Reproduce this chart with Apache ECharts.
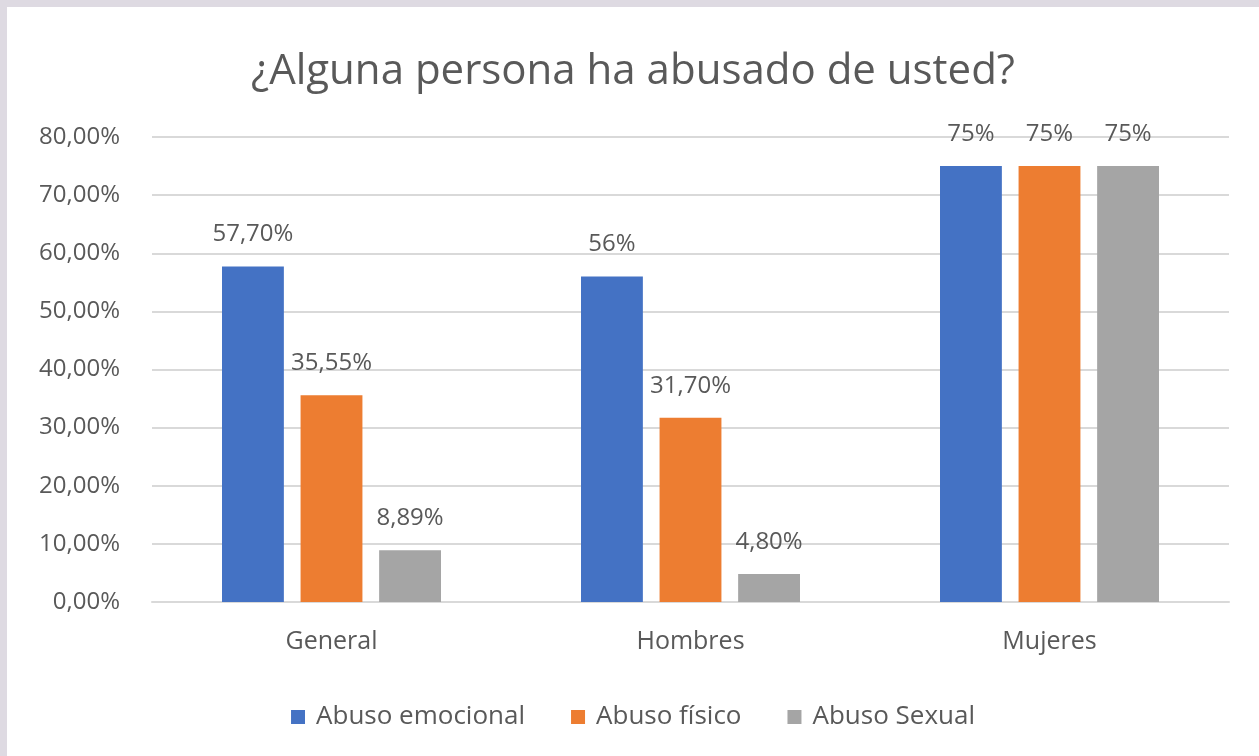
<!DOCTYPE html>
<html>
<head>
<meta charset="utf-8">
<title>¿Alguna persona ha abusado de usted?</title>
<script src="https://cdn.jsdelivr.net/npm/echarts@6/dist/echarts.min.js"></script>
<style>
	html,body{margin:0;padding:0;width:1259px;height:756px;overflow:hidden;background:#dedae2;}
	#main{position:absolute;left:7px;top:7px;width:1252px;height:749px;background:#fff;}
</style>
</head>
<body>
<div id="main"></div>
<script>
var categories = ['General', 'Hombres', 'Mujeres'];
var emocional = [57.70, 56, 75];
var fisico = [35.55, 31.70, 75];
var sexual = [8.89, 4.80, 75];
var seriesNames = ['Abuso emocional', 'Abuso físico', 'Abuso Sexual'];
var colors = ['#4472c4', '#ed7d31', '#a5a5a5'];

var fontFamily = '"Open Sans", "Noto Sans", sans-serif';
var textColor = '#595959';

function pct(v) {
	if (Number.isInteger(v)) {
		return v + '%';
	}
	return v.toFixed(2).replace('.', ',') + '%';
}

function makeSeries(name, data, color) {
	return {
		name: name,
		type: 'bar',
		data: data,
		barGap: '27%',
		barCategoryGap: '39%',
		itemStyle: {color: color},
		label: {
			show: true,
			position: 'top',
			distance: 20,
			color: textColor,
			fontSize: 24,
			fontFamily: fontFamily,
			formatter: function (p) { return pct(p.value); }
		}
	};
}

var chart = echarts.init(document.getElementById('main'));
chart.setOption({
	animation: false,
	color: colors,
	title: {
		text: '¿Alguna persona ha abusado de usted?',
		left: 'center',
		top: 39,
		textStyle: {
			color: textColor,
			fontSize: 42,
			fontWeight: 'normal',
			fontFamily: fontFamily
		}
	},
	legend: {
		data: seriesNames,
		left: 'center',
		top: 692,
		itemWidth: 14,
		itemHeight: 14,
		itemGap: 46,
		icon: 'rect',
		textStyle: {
			color: textColor,
			fontSize: 26,
			fontFamily: fontFamily,
			padding: [0, 0, 0, 6]
		}
	},
	grid: {
		left: 145,
		right: 30,
		top: 130,
		bottom: 154
	},
	xAxis: {
		type: 'category',
		data: categories,
		axisTick: {show: false},
		axisLine: {lineStyle: {color: '#d9d9d9', width: 2}},
		axisLabel: {
			color: textColor,
			fontSize: 25,
			fontFamily: fontFamily,
			margin: 27
		}
	},
	yAxis: {
		type: 'value',
		min: 0,
		max: 80,
		interval: 10,
		axisLine: {show: false},
		axisTick: {show: false},
		splitLine: {lineStyle: {color: '#d9d9d9', width: 2}},
		axisLabel: {
			color: textColor,
			fontSize: 24,
			fontFamily: fontFamily,
			margin: 32,
			formatter: function (v) { return v.toFixed(2).replace('.', ',') + '%'; }
		}
	},
	series: [
		makeSeries(seriesNames[0], emocional, colors[0]),
		makeSeries(seriesNames[1], fisico, colors[1]),
		makeSeries(seriesNames[2], sexual, colors[2])
	]
});
</script>
</body>
</html>
